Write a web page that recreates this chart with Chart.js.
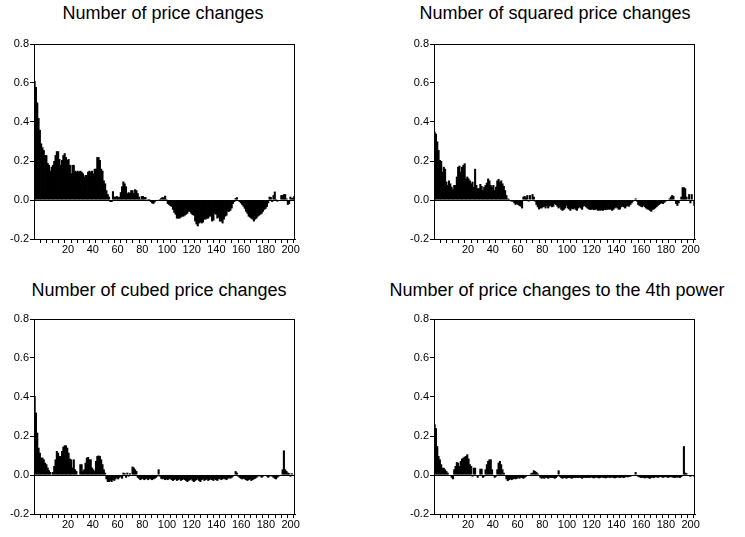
<!DOCTYPE html>
<html>
<head>
<meta charset="utf-8">
<script src="https://cdn.jsdelivr.net/npm/chart.js@4.4.1/dist/chart.umd.min.js"></script>
<style>
  body { margin: 0; background: #fff; width: 745px; height: 537px; position: relative; overflow: hidden;
         font-family: "Liberation Sans", Arial, Helvetica, sans-serif; }
  .title { position: absolute; width: 360px; text-align: center; font-size: 18px; line-height: 20px; color: #000; white-space: nowrap; }
  .panel { position: absolute; width: 300px; height: 230px; }
</style>
</head>
<body>
<div class="title" style="left:-17px; top:3px;">Number of price changes</div>
<div class="title" style="left:375px; top:3px;">Number of squared price changes</div>
<div class="title" style="left:-21px; top:280px;">Number of cubed price changes</div>
<div class="title" style="left:377px; top:280px;">Number of price changes to the 4th power</div>

<canvas id="c1" class="panel" width="300" height="230" style="left:0; top:30px;"></canvas>
<canvas id="c2" class="panel" width="300" height="230" style="left:400px; top:30px;"></canvas>
<canvas id="c3" class="panel" width="300" height="230" style="left:0; top:305px;"></canvas>
<canvas id="c4" class="panel" width="300" height="230" style="left:400px; top:305px;"></canvas>

<script>
"use strict";

// lags 1..200
const lags = [];
for (let i = 1; i <= 200; i++) lags.push(i);

// axis ticks
const yTicks = [-0.2, 0.0, 0.2, 0.4, 0.6, 0.8];
const xTicks = [];
for (let v = 0; v <= 200; v += 5) xTicks.push(v);
const xLabels = [20, 40, 60, 80, 100, 120, 140, 160, 180, 200];

// Number of price changes
const acfLevel = [
  0.61, 0.58, 0.5, 0.42, 0.36, 0.29, 0.27, 0.256, 0.23, 0.23,
  0.19, 0.18, 0.15, 0.17, 0.18, 0.20, 0.23, 0.25, 0.25, 0.21,
  0.18, 0.205, 0.23, 0.24, 0.22, 0.205, 0.21, 0.18, 0.137, 0.18,
  0.18, 0.15, 0.145, 0.15, 0.145, 0.15, 0.145, 0.137, 0.12, 0.128,
  0.128, 0.145, 0.15, 0.145, 0.15, 0.137, 0.16, 0.16, 0.22, 0.22,
  0.205, 0.16, 0.15, 0.10, 0.085, 0.05, 0.03, 0.017, -0.01, -0.01,
  0.045, 0.017, 0.017, 0.02, 0.015, 0.017, 0.04, 0.07, 0.095, 0.085,
  0.07, 0.035, 0.04, 0.035, 0.05, 0.05, 0.035, 0.055, 0.05, 0.035,
  0.017, 0.005, 0.02, 0.02, 0.015, 0.015, 0.0, 0.005, 0.005, -0.01,
  -0.017, -0.02, -0.012, -0.003, -0.003, 0.002, 0.005, 0.01, 0.015, 0.012,
  0.022, 0.005, -0.02, -0.025, -0.03, -0.035, -0.05, -0.065, -0.075, -0.095,
  -0.095, -0.095, -0.09, -0.085, -0.085, -0.08, -0.075, -0.07, -0.06, -0.06,
  -0.07, -0.077, -0.08, -0.11, -0.125, -0.135, -0.12, -0.115, -0.12, -0.115,
  -0.1, -0.1, -0.095, -0.095, -0.085, -0.085, -0.11, -0.105, -0.07, -0.075,
  -0.095, -0.09, -0.11, -0.11, -0.12, -0.1, -0.085, -0.08, -0.06, -0.06,
  -0.055, -0.043, -0.02, -0.01, 0.01, 0.014, 0.0, -0.01, -0.017, -0.025,
  -0.034, -0.045, -0.06, -0.07, -0.085, -0.09, -0.095, -0.1, -0.11, -0.1,
  -0.095, -0.085, -0.08, -0.075, -0.07, -0.06, -0.05, -0.045, -0.035, -0.017,
  0.017, 0.015, -0.01, 0.025, 0.043, 0.005, -0.008, -0.005, -0.003, 0.025,
  0.025, 0.03, 0.03, 0.008, -0.025, -0.02, 0.017, 0.01, 0.012, 0.02
];

// Number of squared price changes
const acfSquared = [
  0.35, 0.34, 0.30, 0.256, 0.205, 0.20, 0.145, 0.17, 0.16, 0.094,
  0.077, 0.10, 0.085, 0.068, 0.055, 0.077, 0.077, 0.12, 0.17, 0.176,
  0.145, 0.17, 0.18, 0.188, 0.11, 0.12, 0.11, 0.10, 0.085, 0.094,
  0.068, 0.16, 0.077, 0.06, 0.06, 0.082, 0.072, 0.05, 0.068, 0.077,
  0.089, 0.11, 0.10, 0.077, 0.068, 0.077, 0.05, 0.068, 0.10, 0.108,
  0.094, 0.10, 0.085, 0.072, 0.05, 0.025, 0.008, 0.005, -0.003, -0.008,
  -0.008, -0.017, -0.025, -0.02, -0.025, -0.03, -0.034, -0.043, 0.017, 0.02,
  0.014, 0.025, -0.008, 0.025, 0.0, 0.03, 0.017, -0.008, -0.025, -0.037,
  -0.048, -0.043, -0.043, -0.037, -0.034, -0.043, -0.03, -0.043, -0.034, -0.03,
  -0.037, -0.034, -0.02, -0.025, -0.034, -0.043, -0.037, -0.05, -0.055, -0.05,
  -0.043, -0.03, -0.043, -0.048, -0.055, -0.045, -0.048, -0.043, -0.05, -0.055,
  -0.043, -0.037, -0.043, -0.05, -0.034, -0.03, -0.037, -0.043, -0.048, -0.05,
  -0.05, -0.048, -0.052, -0.05, -0.048, -0.055, -0.053, -0.055, -0.052, -0.055,
  -0.05, -0.052, -0.05, -0.048, -0.05, -0.048, -0.055, -0.05, -0.043, -0.037,
  -0.043, -0.05, -0.048, -0.037, -0.034, -0.037, -0.043, -0.034, -0.03, -0.034,
  -0.025, -0.017, -0.008, 0.0, 0.008, -0.008, -0.025, -0.03, -0.034, -0.037,
  -0.03, -0.037, -0.043, -0.048, -0.05, -0.055, -0.06, -0.05, -0.048, -0.043,
  -0.037, -0.03, -0.025, -0.02, -0.017, -0.02, -0.014, -0.008, -0.003, 0.0,
  0.008, 0.017, 0.025, 0.02, 0.0, -0.02, -0.03, -0.017, 0.0, 0.017,
  0.065, 0.065, 0.06, 0.017, 0.0, 0.03, -0.017, 0.03, 0.003, -0.03
];

// Number of cubed price changes
const acfCubed = [
  0.405, 0.32, 0.217, 0.14, 0.114, 0.089, 0.089, 0.08, 0.063, 0.055,
  0.038, 0.024, 0.015, 0.003, 0.015, 0.046, 0.08, 0.123, 0.114, 0.097,
  0.097, 0.123, 0.145, 0.152, 0.152, 0.14, 0.114, 0.084, 0.08, 0.038,
  0.08, 0.029, 0.02, 0.003, -0.005, 0.055, 0.055, 0.02, 0.029, 0.063,
  0.089, 0.092, 0.08, 0.08, 0.038, 0.029, 0.02, 0.072, 0.097, 0.10,
  0.097, 0.08, 0.055, 0.029, 0.012, -0.022, -0.036, -0.036, -0.03, -0.036,
  -0.026, -0.03, -0.022, -0.014, -0.022, -0.014, -0.008, -0.019, 0.012, 0.009,
  -0.014, 0.012, -0.008, 0.009, -0.005, 0.043, 0.038, 0.029, 0.02, -0.014,
  -0.019, -0.026, -0.022, -0.019, -0.026, -0.022, -0.019, -0.026, -0.019, -0.022,
  -0.026, -0.022, -0.019, -0.014, -0.008, 0.029, -0.008, -0.019, -0.022, -0.019,
  -0.026, -0.022, -0.026, -0.019, -0.022, -0.026, -0.03, -0.026, -0.022, -0.03,
  -0.026, -0.022, -0.03, -0.026, -0.022, -0.026, -0.03, -0.036, -0.03, -0.026,
  -0.022, -0.03, -0.036, -0.03, -0.026, -0.022, -0.03, -0.036, -0.026, -0.022,
  -0.03, -0.026, -0.022, -0.03, -0.026, -0.022, -0.026, -0.03, -0.022, -0.026,
  -0.03, -0.022, -0.019, -0.026, -0.022, -0.019, -0.022, -0.026, -0.019, -0.014,
  -0.019, -0.014, -0.008, 0.0, 0.02, 0.012, -0.008, -0.014, -0.019, -0.022,
  -0.019, -0.022, -0.026, -0.03, -0.026, -0.022, -0.03, -0.026, -0.022, -0.019,
  -0.014, -0.008, -0.005, -0.008, -0.014, -0.008, -0.005, -0.002, -0.008, -0.014,
  -0.008, -0.005, -0.008, -0.014, -0.019, -0.022, -0.014, -0.008, -0.002, 0.003,
  0.029, 0.126, 0.029, 0.02, 0.012, 0.009, -0.008, 0.009, 0.003, -0.002
];

// Number of price changes to the 4th power
const acfFourth = [
  0.26, 0.24, 0.148, 0.097, 0.08, 0.055, 0.037, 0.037, 0.029, 0.02,
  0.012, 0.003, -0.002, -0.014, -0.022, 0.029, 0.046, 0.066, 0.063, 0.046,
  0.072, 0.084, 0.089, 0.094, 0.097, 0.106, 0.084, 0.055, 0.046, -0.008,
  0.037, 0.037, -0.005, -0.014, -0.005, 0.032, 0.032, -0.014, -0.008, 0.029,
  0.055, 0.072, 0.08, 0.08, 0.029, 0.003, -0.014, -0.008, 0.029, 0.063,
  0.072, 0.055, 0.029, 0.012, -0.002, -0.022, -0.031, -0.026, -0.022, -0.026,
  -0.022, -0.019, -0.022, -0.019, -0.015, -0.019, -0.014, -0.015, -0.019, -0.014,
  -0.009, -0.005, -0.002, 0.003, 0.009, 0.012, 0.024, 0.02, 0.015, 0.008,
  -0.002, -0.014, -0.019, -0.015, -0.019, -0.014, -0.015, -0.019, -0.014, -0.015,
  -0.014, -0.015, -0.019, -0.015, -0.009, 0.024, -0.009, -0.015, -0.019, -0.015,
  -0.014, -0.019, -0.015, -0.014, -0.015, -0.019, -0.015, -0.014, -0.015, -0.014,
  -0.015, -0.014, -0.015, -0.019, -0.015, -0.014, -0.015, -0.014, -0.015, -0.014,
  -0.012, -0.015, -0.017, -0.014, -0.012, -0.015, -0.017, -0.015, -0.012, -0.014,
  -0.015, -0.017, -0.014, -0.012, -0.015, -0.014, -0.012, -0.015, -0.017, -0.014,
  -0.012, -0.014, -0.015, -0.012, -0.014, -0.015, -0.012, -0.01, -0.012, -0.009,
  -0.009, -0.005, -0.002, 0.003, 0.015, 0.003, -0.009, -0.012, -0.015, -0.014,
  -0.015, -0.017, -0.014, -0.015, -0.017, -0.019, -0.015, -0.014, -0.015, -0.012,
  -0.012, -0.014, -0.012, -0.009, -0.012, -0.014, -0.012, -0.01, -0.012, -0.014,
  -0.012, -0.01, -0.012, -0.014, -0.015, -0.012, -0.014, -0.012, -0.015, -0.01,
  0.003, 0.148, 0.012, 0.009, -0.002, -0.005, -0.009, -0.002, -0.005, -0.009
];

// box around the plot area
const frame = {
  id: 'frame',
  afterDatasetsDraw(chart) {
    const a = chart.chartArea;
    const ctx = chart.ctx;
    ctx.save();
    ctx.strokeStyle = '#000';
    ctx.lineWidth = 1;
    ctx.strokeRect(Math.round(a.left) + 0.5, Math.round(a.top) + 0.5,
                   Math.round(a.right - a.left) - 1, Math.round(a.bottom - a.top));
    ctx.restore();
  }
};

const tickFont = { family: '"Liberation Sans", Arial, sans-serif', size: 11 };

function makePanel(id, values) {
  return new Chart(document.getElementById(id), {
    type: 'bar',
    data: {
      labels: lags,
      datasets: [{
        data: values,
        backgroundColor: '#000',
        borderWidth: 0,
        barPercentage: 1.6,
        categoryPercentage: 1.0
      }]
    },
    options: {
      responsive: false,
      animation: false,
      layout: { padding: { top: 14, right: 5, left: 0, bottom: 0 } },
      plugins: { legend: { display: false }, tooltip: { enabled: false } },
      scales: {
        x: { display: false },
        xt: {
          type: 'linear',
          position: 'bottom',
          min: -5,
          max: 201,
          afterBuildTicks: axis => { axis.ticks = xTicks.map(v => ({ value: v })); },
          afterFit: axis => { axis.height = 21; },
          ticks: {
            autoSkip: false,
            maxRotation: 0,
            padding: 0,
            color: '#000',
            font: tickFont,
            callback: v => xLabels.includes(v) ? String(v) : ''
          },
          grid: { drawOnChartArea: false, tickLength: 4, tickColor: '#000' },
          border: { display: true, color: '#000' }
        },
        y: {
          min: yTicks[0],
          max: yTicks[yTicks.length - 1],
          afterBuildTicks: axis => { axis.ticks = yTicks.map(v => ({ value: v })); },
          afterFit: axis => { axis.width = 34; },
          ticks: {
            padding: 1,
            color: '#000',
            font: tickFont,
            callback: v => v.toFixed(1)
          },
          grid: {
            color: c => (c.tick && Math.abs(c.tick.value) < 1e-9) ? '#000' : 'rgba(0,0,0,0)',
            tickColor: '#000',
            tickLength: 4,
            lineWidth: 1
          },
          border: { display: true, color: '#000' }
        }
      }
    },
    plugins: [frame]
  });
}

makePanel('c1', acfLevel);
makePanel('c2', acfSquared);
makePanel('c3', acfCubed);
makePanel('c4', acfFourth);
</script>
</body>
</html>
